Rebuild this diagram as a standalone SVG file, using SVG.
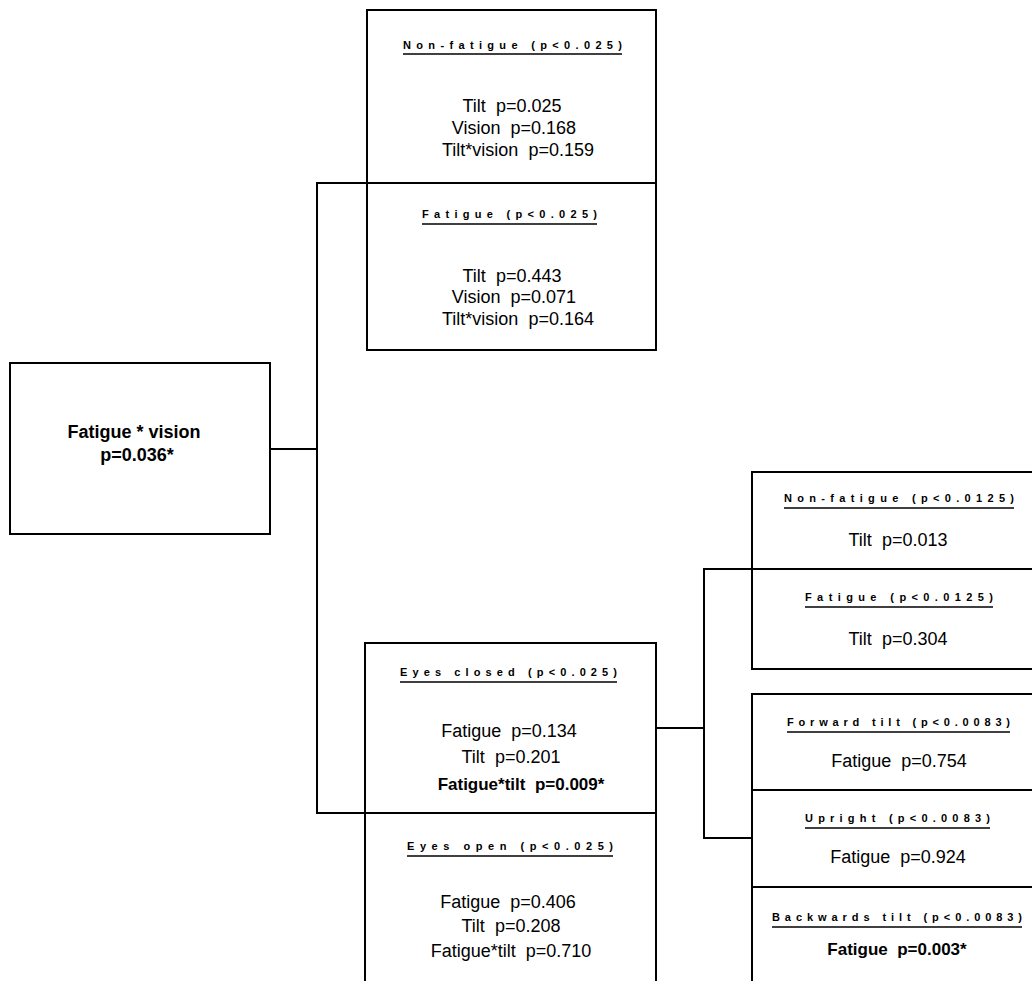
<svg xmlns="http://www.w3.org/2000/svg" width="1032" height="981" viewBox="0 0 1032 981">
<style>
.box{fill:none;stroke:#000;stroke-width:2}
.div{stroke:#000;stroke-width:2}
.conn{stroke:#000;stroke-width:2;fill:none}
.hd{font-family:"Liberation Sans",Arial,sans-serif;font-weight:bold;font-size:11px;fill:#000}
.ul{stroke:#000;stroke-width:1.5}
.bd{font-family:"Liberation Sans",Arial,sans-serif;font-size:18px;fill:#000;text-anchor:middle;white-space:pre}
.bb{font-family:"Liberation Sans",Arial,sans-serif;font-size:17px;font-weight:bold;fill:#000;text-anchor:middle;white-space:pre}
</style>
<rect width="1032" height="981" fill="#fff"/>
<g id="connectors">
<polyline class="conn" points="270,449 317,449"/>
<polyline class="conn" points="367,183 317,183 317,813 365,813"/>
<polyline class="conn" points="656,728 704,728"/>
<polyline class="conn" points="752,569 704,569 704,838 752,838"/>
</g>
<g id="root">
<rect class="box" x="10" y="363" width="260" height="171"/>
<text class="bb" x="134" y="438" style="font-size:18px">Fatigue * vision</text>
<text class="bb" x="137" y="461" style="font-size:18px">p=0.036*</text>
</g>
<g id="vision-split">
<rect class="box" x="367" y="10" width="289" height="340"/>
<line class="div" x1="367" y1="183" x2="656" y2="183"/>
<g id="non-fatigue-1">
<text class="hd" x="403" y="49" textLength="219" lengthAdjust="spacing">Non-fatigue (p&lt;0.025)</text>
<line class="ul" x1="403" y1="54" x2="622" y2="54"/>
<text class="bd" x="512" y="112">Tilt  p=0.025</text>
<text class="bd" x="514" y="134">Vision  p=0.168</text>
<text class="bd" x="518" y="156">Tilt*vision  p=0.159</text>
</g>
<g id="fatigue-1">
<text class="hd" x="422" y="218" textLength="175" lengthAdjust="spacing">Fatigue (p&lt;0.025)</text>
<line class="ul" x1="422" y1="224" x2="597" y2="224"/>
<text class="bd" x="512" y="282">Tilt  p=0.443</text>
<text class="bd" x="514" y="303">Vision  p=0.071</text>
<text class="bd" x="518" y="325">Tilt*vision  p=0.164</text>
</g>
</g>
<g id="eyes-split">
<rect class="box" x="365" y="643" width="291" height="360"/>
<line class="div" x1="365" y1="813" x2="656" y2="813"/>
<g id="eyes-closed">
<text class="hd" x="400" y="676" textLength="217" lengthAdjust="spacing">Eyes closed (p&lt;0.025)</text>
<line class="ul" x1="400" y1="682" x2="617" y2="682"/>
<text class="bd" x="509" y="737">Fatigue  p=0.134</text>
<text class="bd" x="511" y="763">Tilt  p=0.201</text>
<text class="bb" x="521" y="790">Fatigue*tilt  p=0.009*</text>
</g>
<g id="eyes-open">
<text class="hd" x="407" y="850" textLength="206" lengthAdjust="spacing">Eyes open (p&lt;0.025)</text>
<line class="ul" x1="407" y1="856" x2="613" y2="856"/>
<text class="bd" x="508" y="908">Fatigue  p=0.406</text>
<text class="bd" x="511" y="932">Tilt  p=0.208</text>
<text class="bd" x="511" y="957">Fatigue*tilt  p=0.710</text>
</g>
</g>
<g id="closed-fatigue-split">
<rect class="box" x="752" y="472" width="300" height="197"/>
<line class="div" x1="752" y1="569" x2="1040" y2="569"/>
<g id="non-fatigue-2">
<text class="hd" x="784" y="502" textLength="230" lengthAdjust="spacing">Non-fatigue (p&lt;0.0125)</text>
<line class="ul" x1="784" y1="508" x2="1014" y2="508"/>
<text class="bd" x="898" y="546">Tilt  p=0.013</text>
</g>
<g id="fatigue-2">
<text class="hd" x="805" y="601" textLength="188" lengthAdjust="spacing">Fatigue (p&lt;0.0125)</text>
<line class="ul" x1="805" y1="607" x2="993" y2="607"/>
<text class="bd" x="898" y="645">Tilt  p=0.304</text>
</g>
</g>
<g id="closed-tilt-split">
<rect class="box" x="752" y="694" width="300" height="310"/>
<line class="div" x1="752" y1="790" x2="1040" y2="790"/>
<line class="div" x1="752" y1="887" x2="1040" y2="887"/>
<g id="forward-tilt">
<text class="hd" x="787" y="726" textLength="223" lengthAdjust="spacing">Forward tilt (p&lt;0.0083)</text>
<line class="ul" x1="787" y1="732" x2="1010" y2="732"/>
<text class="bd" x="899" y="767">Fatigue  p=0.754</text>
</g>
<g id="upright">
<text class="hd" x="805" y="822" textLength="185" lengthAdjust="spacing">Upright (p&lt;0.0083)</text>
<line class="ul" x1="805" y1="828" x2="990" y2="828"/>
<text class="bd" x="898" y="863">Fatigue  p=0.924</text>
</g>
<g id="backwards-tilt">
<text class="hd" x="772" y="921" textLength="250" lengthAdjust="spacing">Backwards tilt (p&lt;0.0083)</text>
<line class="ul" x1="772" y1="927" x2="1022" y2="927"/>
<text class="bb" x="897" y="955">Fatigue  p=0.003*</text>
</g>
</g>
</svg>
